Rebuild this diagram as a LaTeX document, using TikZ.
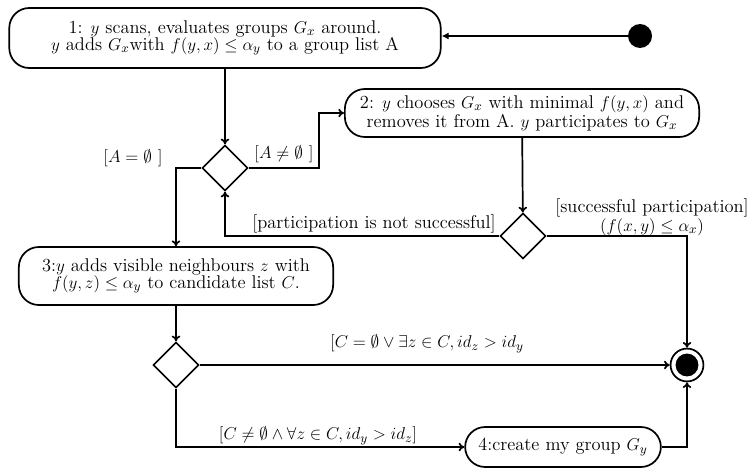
\documentclass[tikz,border=0pt]{standalone}
\usepackage{amssymb}
\usetikzlibrary{shapes.geometric,arrows.meta}
\begin{document}
\begin{tikzpicture}[x=0.7pt,y=-0.7pt,
  every node/.style={font=\fontsize{12.9pt}{11.9pt}\selectfont},
  act/.style={draw,line width=1.2pt,rounded corners=14pt,align=center,inner sep=1pt},
  dec/.style={draw,diamond,line width=1.2pt,minimum size=32pt,inner sep=0pt},
  conn/.style={line width=1.2pt,-{To[length=4pt,width=6pt]}},
  lbl/.style={inner sep=1pt,align=center}]
\useasboundingbox (0,0) rectangle (756,473);
\node[act,minimum width=302pt,minimum height=42pt] (n1) at (225,38)
  {1: $y$ scans, evaluates groups $G_x$ around.\\ $y$ adds $G_x$with $f(y,x)\leq\alpha_y$ to a group list A};
\node[circle,fill,minimum size=16.8pt,inner sep=0pt] (st) at (640,36) {};
\node[dec] (d1) at (225,168) {};
\node[act,minimum width=248pt,minimum height=33.6pt] (n2) at (522,113)
  {2: $y$ chooses $G_x$ with minimal $f(y,x)$ and\\ removes it from A. $y$ participates to $G_x$};
\node[dec] (d2) at (523,236) {};
\node[act,minimum width=220pt,minimum height=40.6pt] (n3) at (176,276)
  {3:$y$ adds visible neighbours $z$ with\\ $f(y,z)\leq\alpha_y$ to candidate list $C$.};
\node[dec] (d3) at (176,365) {};
\node[act,minimum width=137pt,minimum height=28pt] (n4) at (563,447) {4:create my group $G_y$};
\node[circle,draw,line width=1.2pt,minimum size=23pt,inner sep=0pt,
  path picture={\fill (path picture bounding box.center) circle (8pt);}] (fin) at (687,365) {};
\coordinate (k1) at (319,168);
% connectors
\draw[line width=1.2pt,-{Latex[length=5pt,width=5pt]}] (st) -- (n1.east |- st);
\draw[conn] (n1) -- (d1);
\draw[conn] (d1.east) -- (k1) |- (n2.west);
\draw[conn] (n2) -- (d2);
\draw[conn] (d2.west) -| (d1.south);
\draw[conn] (d2.east) -| (fin.north);
\draw[conn] (d1.west) -| (n3.north);
\draw[conn] (n3) -- (d3);
\draw[conn] (d3.east) -- (fin.west);
\draw[conn] (d3.south) |- (n4.west);
\draw[conn] (n4.east) -| (fin.south);
% labels
\node[lbl] (l1) at (133,158) {$[A=\emptyset\ ]$};
\node[lbl] (l2) at (284,154) {$[A\neq\emptyset\ ]$};
\node[lbl] (l3) at (374,224) {[participation is not successful]};
\node[lbl] (l4) at (652,217) {[successful participation]\\ $(f(x,y)\leq\alpha_x)$};
\node[lbl] (l5) at (427,344) {$[C=\emptyset\vee\exists z\in C, id_z>id_y$};
\node[lbl] (l6) at (318,436) {$[C\neq\emptyset\wedge\forall z\in C, id_y>id_z]$};
\end{tikzpicture}
\end{document}
